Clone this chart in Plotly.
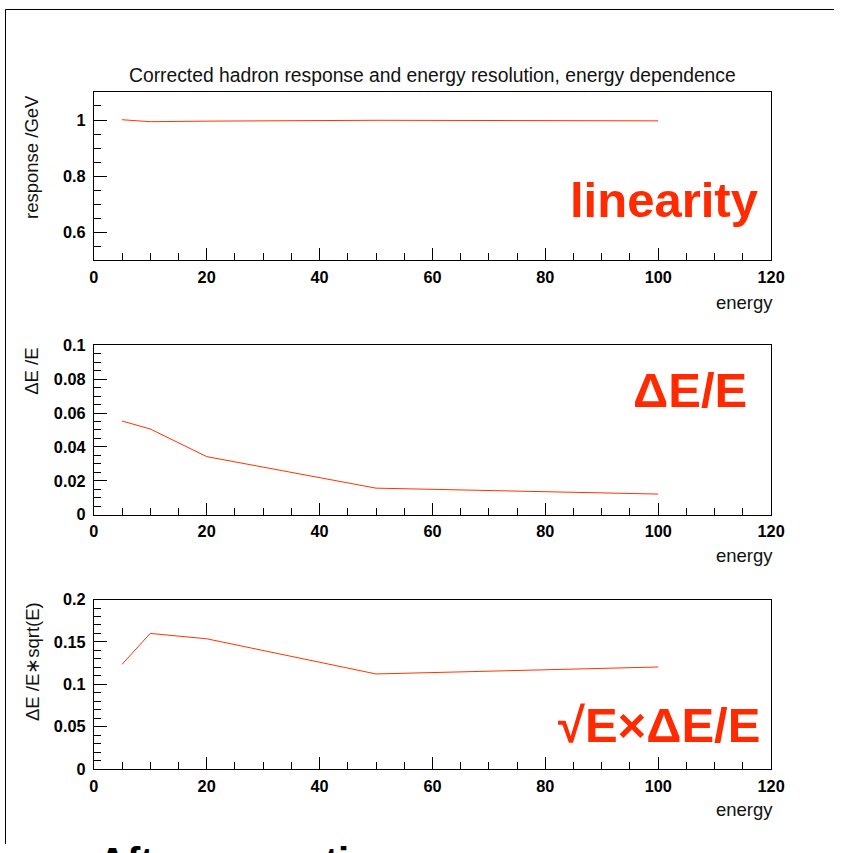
import plotly.graph_objects as go

# Beam energies (GeV) and measured quantities after correction
energy = [5, 10, 20, 50, 100]
response = [1.001, 0.994, 0.996, 0.999, 0.997]
resolution = [0.0553, 0.0506, 0.0343, 0.0157, 0.0122]
scaled_resolution = [0.1235, 0.160, 0.1537, 0.1122, 0.1204]

W, H = 848, 853
BODY = 8  # default html body margin around the figure div
SX, SY = W / (W + 2 * BODY), H / (H + 2 * BODY)
X_NUDGE = 4
RED = "#ff2a00"
LINE_RED = "#ff3300"

def px_x(x):
    """screen pixel x -> paper fraction"""
    return ((x + X_NUDGE) / SX - BODY) / W

def px_y(y):
    """screen pixel y -> paper fraction"""
    return 1 - (y / SY - BODY) / H

# plot-area boxes in screen pixels: (top, bottom)
panels = [(91, 260), (345, 515), (600, 770)]
x_left, x_right = 93, 773

fig = go.Figure()
series = [response, resolution, scaled_resolution]
for i, ys in enumerate(series):
    sfx = "" if i == 0 else str(i + 1)
    fig.add_trace(go.Scatter(
        x=energy, y=ys, mode="lines",
        line=dict(color=LINE_RED, width=1),
        xaxis="x" + sfx, yaxis="y" + sfx, showlegend=False,
        hoverinfo="skip",
    ))

tickfont = dict(family="Liberation Sans", size=16.3, color="black", weight="bold")

y_specs = [
    dict(range=[0.5, 1.1], dtick=0.2, tick0=0, minor=0.05),
    dict(range=[0, 0.1], dtick=0.02, tick0=0, minor=0.005),
    dict(range=[0, 0.2], dtick=0.05, tick0=0, minor=0.01),
]

layout = dict(
    width=W, height=H,
    margin=dict(l=0, r=0, t=0, b=0),
    paper_bgcolor="white", plot_bgcolor="white",
    showlegend=False,
)

for i, (top, bottom) in enumerate(panels):
    sfx = "" if i == 0 else str(i + 1)
    spec = y_specs[i]
    layout["xaxis" + sfx] = dict(
        domain=[px_x(x_left), px_x(x_right)],
        anchor="y" + sfx,
        range=[0, 120], dtick=20, tick0=0,
        ticks="inside", ticklen=12, tickwidth=1, tickcolor="black",
        minor=dict(dtick=5, ticks="inside", ticklen=7, tickwidth=1, tickcolor="black"),
        showline=True, mirror=True, linecolor="black", linewidth=1,
        showgrid=False, zeroline=False,
        tickfont=tickfont, ticklabelstandoff=2,
    )
    layout["yaxis" + sfx] = dict(
        domain=[px_y(bottom), px_y(top)],
        anchor="x" + sfx,
        range=spec["range"], dtick=spec["dtick"], tick0=spec["tick0"],
        ticks="inside", ticklen=13, tickwidth=1, tickcolor="black",
        minor=dict(dtick=spec["minor"], ticks="inside", ticklen=7, tickwidth=1, tickcolor="black"),
        showline=True, mirror=True, linecolor="black", linewidth=1,
        showgrid=False, zeroline=False,
        tickfont=tickfont, ticklabelstandoff=4,
    )

fig.update_layout(**layout)

label_font = dict(family="Liberation Sans", size=18.5, color="#111111")
title_font = dict(family="Liberation Sans", size=19.3, color="#111111")
big_font = dict(family="Liberation Sans", size=49, color=RED, weight="bold")

annotations = [
    dict(text="Corrected hadron response and energy resolution, energy dependence",
         x=px_x((x_left + x_right) / 2), y=px_y(75), xanchor="center", yanchor="middle",
         font=title_font),
]

y_titles = ["response /GeV", "ΔE /E", "ΔE /E∗sqrt(E)"]
big_labels = ["linearity", "ΔE/E", "√E×ΔE/E"]
big_pos = [(762, 199), (751, 390), (764, 726)]
energy_y = [302, 556, 811]

for i, (top, bottom) in enumerate(panels):
    annotations.append(dict(text=y_titles[i], textangle=-90,
                            x=px_x(31), y=px_y(top + 1), xanchor="center", yanchor="top",
                            font=label_font))
    annotations.append(dict(text="energy", x=px_x(x_right + 4), y=px_y(energy_y[i]),
                            xanchor="right", yanchor="middle", font=label_font))
    bx, by = big_pos[i]
    annotations.append(dict(text=big_labels[i], x=px_x(bx), y=px_y(by),
                            xanchor="right", yanchor="middle", font=big_font))

annotations.append(dict(text="After correction", x=px_x(95), y=1 - 847 / H,
                        xanchor="left", yanchor="top",
                        font=dict(family="Liberation Sans", size=40, color="black", weight="bold")))

for a in annotations:
    a.update(xref="paper", yref="paper", showarrow=False)
fig.update_layout(annotations=annotations)

# outer frame (left and top edges)
fig.add_shape(type="line", xref="paper", yref="paper",
              x0=0.5 / W, x1=0.5 / W, y0=0, y1=1 - 0.5 / H,
              line=dict(color="black", width=1))
fig.add_shape(type="line", xref="paper", yref="paper",
              x0=0.5 / W, x1=1, y0=1 - 0.5 / H, y1=1 - 0.5 / H,
              line=dict(color="black", width=1))

fig.write_html("out.html")
